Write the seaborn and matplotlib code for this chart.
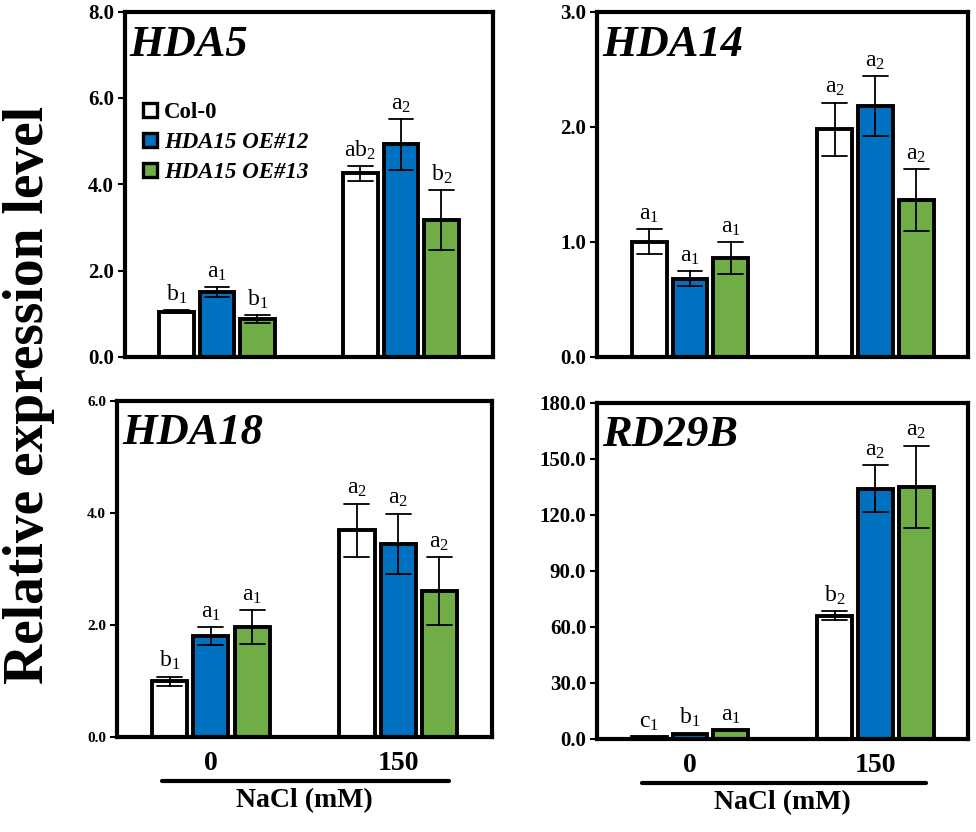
import numpy as np
import pandas as pd
import matplotlib
matplotlib.use("Agg")
import matplotlib.pyplot as plt
from matplotlib.lines import Line2D
import matplotlib.transforms as mtransforms
import seaborn as sns

# ---------------- data ----------------
nacl_levels = ["0", "150"]
genotypes = ["Col-0", "HDA15 OE#12", "HDA15 OE#13"]
colors = ["#FFFFFF", "#0070C0", "#70AD47"]

# order of values: (NaCl 0: Col-0, OE#12, OE#13), (NaCl 150: Col-0, OE#12, OE#13)
hda5_mean = [1.05, 1.50, 0.87, 4.25, 4.93, 3.17]
hda5_err = [0.03, 0.12, 0.09, 0.18, 0.59, 0.70]
hda5_letters = ["b1", "a1", "b1", "ab2", "a2", "b2"]

hda14_mean = [1.00, 0.68, 0.86, 1.98, 2.18, 1.36]
hda14_err = [0.11, 0.065, 0.14, 0.23, 0.26, 0.27]
hda14_letters = ["a1", "a1", "a1", "a2", "a2", "a2"]

hda18_mean = [1.00, 1.80, 1.97, 3.69, 3.45, 2.61]
hda18_err = [0.08, 0.16, 0.30, 0.48, 0.54, 0.60]
hda18_letters = ["b1", "a1", "a1", "a2", "a2", "a2"]

rd29b_mean = [1.0, 2.8, 4.5, 66.0, 134.0, 135.0]
rd29b_err = [0.0, 0.0, 0.0, 2.6, 12.8, 22.0]
rd29b_letters = ["c1", "b1", "a1", "b2", "a2", "a2"]

panels = [
    dict(name="HDA5", mean=hda5_mean, err=hda5_err, letters=hda5_letters,
         ymax=8.0, ystep=2.0, rect=[0.128, 0.571, 0.377, 0.415], tsize=15, bottom=False, legend=True),
    dict(name="HDA14", mean=hda14_mean, err=hda14_err, letters=hda14_letters,
         ymax=3.0, ystep=1.0, rect=[0.612, 0.571, 0.380, 0.415], tsize=15, bottom=False, legend=False),
    dict(name="HDA18", mean=hda18_mean, err=hda18_err, letters=hda18_letters,
         ymax=6.0, ystep=2.0, rect=[0.120, 0.114, 0.384, 0.404], tsize=11, bottom=True, legend=False),
    dict(name="RD29B", mean=rd29b_mean, err=rd29b_err, letters=rd29b_letters,
         ymax=180.0, ystep=30.0, rect=[0.612, 0.112, 0.380, 0.404], tsize=15, bottom=True, legend=False),
]

# ---------------- style ----------------
sns.set_style("white")
plt.rcParams["font.family"] = ["Liberation Serif", "DejaVu Serif"]
plt.rcParams["mathtext.fontset"] = "custom"
plt.rcParams["mathtext.rm"] = "Liberation Serif"
plt.rcParams["mathtext.it"] = "Liberation Serif:italic"
plt.rcParams["mathtext.bf"] = "Liberation Serif:bold"
for key in ["text.color", "axes.labelcolor", "xtick.color", "ytick.color", "axes.edgecolor"]:
    plt.rcParams[key] = "black"

fig = plt.figure(figsize=(9.76, 8.32), dpi=100)

for p in panels:
    ax = fig.add_axes(p["rect"])
    rows = []
    k = 0
    for lev in nacl_levels:
        for g in genotypes:
            m, e = p["mean"][k], p["err"][k]
            rows.append({"nacl": lev, "genotype": g, "value": m - e})
            rows.append({"nacl": lev, "genotype": g, "value": m + e})
            k += 1
    df = pd.DataFrame(rows)
    sns.barplot(data=df, x="nacl", y="value", hue="genotype",
                order=nacl_levels, hue_order=genotypes, palette=colors,
                saturation=1, estimator="mean",
                errorbar=lambda v: (v.min(), v.max()),
                capsize=0.4, err_kws={"color": "black", "linewidth": 1.3},
                edgecolor="black", linewidth=2.8, width=0.66, gap=0.15,
                legend=False, ax=ax)
    ax.set_xlim(-0.5, 1.5)
    ax.set_ylim(0, p["ymax"])
    ticks = np.arange(0, p["ymax"] + 1e-9, p["ystep"])
    ax.set_yticks(ticks)
    ax.set_yticklabels([f"{t:.1f}" for t in ticks], fontweight="bold", fontsize=p["tsize"])
    ax.set_xlabel("")
    ax.set_ylabel("")
    for s in ax.spines.values():
        s.set_visible(True)
        s.set_linewidth(3)
        s.set_color("black")
    ax.tick_params(axis="y", direction="out", length=5, width=1.5, pad=3, left=True,
                   colors="black")
    if p["bottom"]:
        ax.tick_params(axis="x", length=0, pad=10, colors="black")
        ax.set_xticklabels(nacl_levels, fontweight="bold", fontsize=20)
        trans = mtransforms.blended_transform_factory(ax.transData, ax.transAxes)
        ax.add_line(Line2D([-0.26, 1.27], [-0.13, -0.13], transform=trans,
                           color="black", linewidth=3, clip_on=False))
        ax.text(0.5, -0.19, "NaCl (mM)", transform=ax.transAxes, ha="center", va="center",
                fontsize=20, fontweight="bold", color="black")
    else:
        ax.tick_params(axis="x", length=0, labelbottom=False)

    # gene name
    ax.text(0.013, 0.872, p["name"], transform=ax.transAxes, ha="left", va="baseline",
            fontsize=32, fontweight="bold", fontstyle="italic", color="black")

    # significance letters
    bars = sorted(ax.patches, key=lambda r: r.get_x())
    for r, m, e, lab in zip(bars, p["mean"], p["err"], p["letters"]):
        txt = lab[:-1] + r"$_{\mathregular{" + lab[-1] + r"}}$"
        ax.annotate(txt, xy=(r.get_x() + r.get_width() / 2, m + e),
                    xytext=(0, 3), textcoords="offset points",
                    ha="center", va="bottom", fontsize=17, color="black")

    if p["legend"]:
        handles = [Line2D([], [], marker="s", linestyle="none", markersize=10,
                          markerfacecolor=c, markeredgecolor="black", markeredgewidth=2.4)
                   for c in colors]
        leg = ax.legend(handles, genotypes, loc="upper left", bbox_to_anchor=(0.0, 0.785),
                        frameon=False, handlelength=0.75, handletextpad=0.25,
                        labelspacing=0.4, borderaxespad=0.3,
                        prop={"size": 16.5, "weight": "bold", "style": "italic"})
        for t in leg.get_texts():
            t.set_color("black")
        leg.get_texts()[0].set_fontstyle("normal")

fig.text(0.003, 0.525, "Relative expression level", rotation=90, ha="left", va="center",
         fontsize=40, fontweight="bold", color="black")

fig.savefig("out.png", dpi=100)
